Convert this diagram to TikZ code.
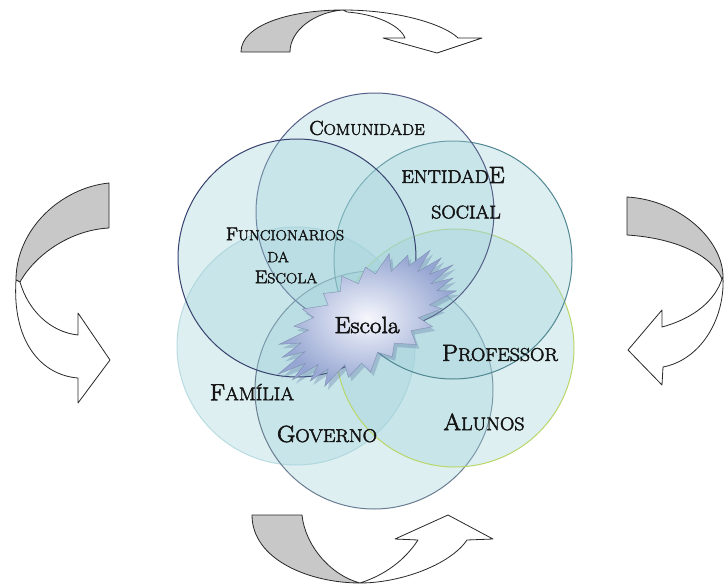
\documentclass[tikz,border=0pt]{standalone}
\usepackage{fontspec}
\newfontfamily\labelface{Latin Modern Roman}[FakeBold=2.6, FakeStretch=1.08]
% a large initial followed by smaller capitals
\newcommand\SC[2]{#1{\fontsize{\scsz}{\scsz}\selectfont #2}}
\def\scsz{17}
\definecolor{ringfill}{RGB}{160,210,218}
\definecolor{edgeT}{RGB}{85,95,135}
\definecolor{edgeUL}{RGB}{55,65,110}
\definecolor{edgeUR}{RGB}{80,135,145}
\definecolor{edgeLR}{RGB}{185,215,105}
\definecolor{edgeLL}{RGB}{185,220,225}
\definecolor{edgeB}{RGB}{105,125,145}
\definecolor{tailgrey}{RGB}{200,200,200}
\definecolor{arrowline}{RGB}{40,40,40}
\definecolor{labelink}{RGB}{20,20,20}
\definecolor{starlight}{RGB}{246,247,253}
\definecolor{stardark}{RGB}{150,166,210}
\definecolor{starshadow}{RGB}{105,125,170}
\begin{document}
\begin{tikzpicture}[x=1pt,y=-1pt,
  ring/.style={circle, minimum size=238pt, inner sep=0pt, line width=1pt,
    fill=ringfill, fill opacity=0.34},
  lbl/.style={font={\labelface\fontsize{23.4}{25}\selectfont\def\scsz{18.4}}, text=labelink, inner sep=0pt},
  smalllbl/.style={lbl, font={\labelface\fontsize{18.6}{20}\selectfont\def\scsz{14.6}}},
  toplbl/.style={lbl, font={\labelface\fontsize{20}{22}\selectfont\def\scsz{15.6}}},
  tailpart/.style={fill=tailgrey, draw=arrowline, line width=0.8pt, line join=round},
  headpart/.style={fill=white, draw=arrowline, line width=0.8pt, line join=round}]

% canvas
\fill[white] (0,0) rectangle (724,584);
\useasboundingbox (0,0) rectangle (724,584);

% six overlapping rings
\node[ring, draw=edgeLL] (familia) at (296,346) {};
\node[ring, draw=edgeB] (governo) at (374,390) {};
\node[ring, draw=edgeLR] (professor) at (455,348) {};
\node[ring, draw=edgeUR] (entidade) at (453,260) {};
\node[ring, draw=edgeT] (comunidade) at (375,212) {};
\node[ring, draw=edgeUL] (funcionarios) at (297,258) {};

% central burst, slightly irregular spikes
\def\burst{(0:100 and 48)
  \foreach \a/\f in {7/0.72, 14/0.96, 21/0.78, 29/1.02, 37/0.74, 44/0.94, 52/0.70,
    60/1.0, 67/0.76, 75/1.04, 83/0.74, 90/0.95, 98/0.72, 105/1.02, 112/0.78,
    120/0.96, 128/0.72, 135/1.03, 143/0.76, 150/0.95, 158/0.72, 165/1.0, 172/0.78,
    180/1.06, 188/0.72, 195/0.97, 203/0.76, 210/1.03, 218/0.72, 225/0.95,
    233/0.76, 240/1.02, 248/0.72, 255/0.96, 263/0.78, 270/1.03, 278/0.72,
    285/0.96, 293/0.76, 300/1.04, 308/0.72, 315/0.95, 323/0.78, 330/1.02,
    338/0.72, 345/0.97, 353/0.76} {-- (\a:{100*\f} and {48*\f})} -- cycle}
\begin{scope}[shift={(371,322)}, rotate=32]
  \fill[starshadow, opacity=0.35] \burst;
\end{scope}
\begin{scope}[shift={(368,318)}, rotate=32]
  \shade[inner color=starlight, outer color=stardark, draw=stardark!85!black, line width=0.4pt] \burst;
\end{scope}
\node[text=labelink, font=\labelface\fontsize{23.5}{25}\selectfont, inner sep=0pt] (escola) at (367,325) {Escola};

% ring labels
\node[toplbl] (tcomunidade) at (367,128) {\SC{C}{OMUNIDADE}};
\node[lbl] (tentidade) at (453,175) {\SC{}{ENTIDAD}E};
\node[lbl] (tsocial) at (466,212) {\SC{}{SOCIAL}};
\node[smalllbl] (tfuncionarios) at (285,234) {\SC{F}{UNCIONARIOS}};
\node[smalllbl] (tda) at (278,257) {\SC{}{DA}};
\node[smalllbl] (tescola) at (286,277) {\SC{E}{SCOLA}};
\node[lbl] (tprofessor) at (500,353) {\SC{P}{ROFESSOR}};
\node[lbl] (tfamilia) at (252,392) {\SC{F}{AMÍLIA}};
\node[lbl] (tgoverno) at (327,434) {\SC{G}{OVERNO}};
\node[lbl] (talunos) at (484,422) {\SC{A}{LUNOS}};

% curved arrow, top
\draw[tailpart] (241,52) .. controls (241,25) and (290,10) .. (343,10)
  .. controls (315,12) and (290,30) .. (290,52) -- cycle;
\draw[headpart] (343,10) .. controls (400,10) and (445,25) .. (458,38)
  -- (482,38) -- (437,53) -- (383,38) -- (405,38)
  .. controls (400,25) and (375,14) .. (347,12) -- cycle;

% curved arrow, left
\draw[tailpart] (109,183) .. controls (60,188) and (16,230) .. (16,280)
  -- (20,282) .. controls (35,255) and (70,230) .. (109,228) -- cycle;
\draw[headpart] (16,280) .. controls (12,340) and (40,375) .. (78,378)
  -- (78,403) -- (110,360) -- (78,313) -- (78,335)
  .. controls (50,332) and (28,310) .. (20,282) -- cycle;

% curved arrow, right
\draw[tailpart] (627,197) .. controls (680,200) and (723,240) .. (723,277)
  -- (722,279) .. controls (712,255) and (675,238) .. (627,235) -- cycle;
\draw[headpart] (723,277) .. controls (725,320) and (700,360) .. (663,367)
  -- (662,385) -- (628,350) -- (662,310) -- (662,327)
  .. controls (695,318) and (715,300) .. (722,279) -- cycle;

% curved arrow, bottom
\draw[tailpart] (252,515) .. controls (252,560) and (310,583) .. (360,583)
  .. controls (330,575) and (305,545) .. (302,515) -- cycle;
\draw[headpart] (360,583) .. controls (400,583) and (450,565) .. (467,540)
  -- (493,539) -- (448,515) -- (395,539) -- (418,540)
  .. controls (405,560) and (385,575) .. (360,583) -- cycle;
\end{tikzpicture}
\end{document}
